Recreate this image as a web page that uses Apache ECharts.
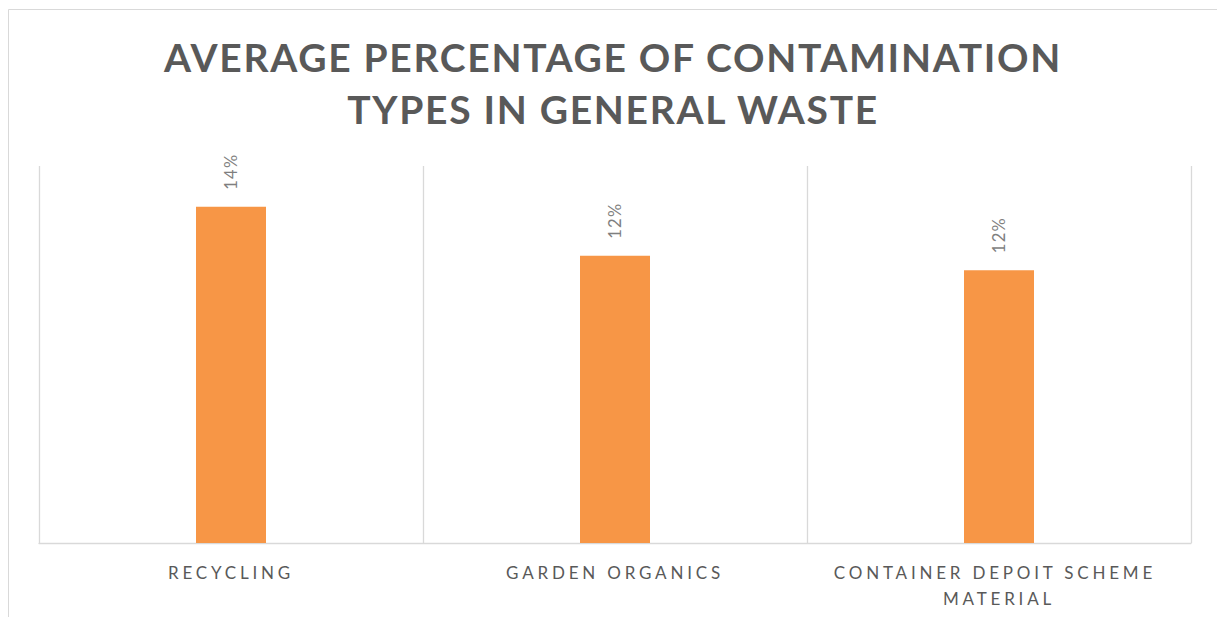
<!DOCTYPE html>
<html>
<head>
<meta charset="utf-8">
<script src="https://cdn.jsdelivr.net/npm/echarts@6/dist/echarts.min.js"></script>
<style>
html,body{margin:0;padding:0;background:#fff;}
#chart{width:1217px;height:617px;}
</style>
</head>
<body>
<div id="chart"></div>
<script>
const titleText = 'AVERAGE PERCENTAGE OF CONTAMINATION\nTYPES IN GENERAL WASTE';
const categories = ['RECYCLING', 'GARDEN ORGANICS', 'CONTAINER DEPOIT SCHEME MATERIAL'];
const values = [0.1427, 0.1219, 0.1158];
const yMin = 0;
const yMax = 0.16;

const chart = echarts.init(document.getElementById('chart'), null, {renderer: 'svg'});
chart.setOption({
  animation: false,
  backgroundColor: '#ffffff',
  title: {
    text: titleText,
    left: 613,
    textAlign: 'center',
    top: 31,
    padding: 0,
    textStyle: {
      fontFamily: 'Lato',
      fontWeight: 'bold',
      fontSize: 39,
      lineHeight: 52,
      color: '#595959'
    }
  },
  graphic: [
    {type: 'line', shape: {x1: 8.5, y1: 9.5, x2: 1217, y2: 9.5}, style: {stroke: '#D9D9D9', lineWidth: 1}, silent: true},
    {type: 'line', shape: {x1: 8.5, y1: 9.5, x2: 8.5, y2: 617}, style: {stroke: '#D9D9D9', lineWidth: 1}, silent: true}
  ],
  grid: {left: 39, right: 26, top: 166, bottom: 74, containLabel: false},
  xAxis: {
    type: 'category',
    data: categories,
    boundaryGap: true,
    axisLine: {show: true, lineStyle: {color: '#D9D9D9', width: 1.3}},
    axisTick: {show: false},
    splitLine: {show: true, lineStyle: {color: '#D9D9D9', width: 1.3}},
    axisLabel: {
      interval: 0,
      margin: 16,
      fontFamily: 'Lato',
      fontSize: 17,
      lineHeight: 26,
      color: '#595959',
      width: 270,
      overflow: 'break'
    }
  },
  yAxis: {
    type: 'value',
    min: yMin,
    max: yMax,
    show: false,
    splitLine: {show: false}
  },
  series: [{
    type: 'bar',
    data: values,
    barWidth: 70,
    itemStyle: {color: '#F79646'},
    label: {
      show: true,
      position: 'top',
      distance: 17,
      rotate: 90,
      align: 'left',
      verticalAlign: 'middle',
      fontFamily: 'Lato',
      fontSize: 16.5,
      color: '#7F7F7F',
      formatter: p => Math.round(p.value * 100) + '%'
    }
  }]
});

function applySpacing() {
  document.querySelectorAll('#chart svg text').forEach(el => {
    const fs = parseFloat(getComputedStyle(el).fontSize);
    let sp = 0;
    if (fs >= 30) sp = 1.7;
    else if (fs >= 17) sp = 3.8;
    else sp = 1.3;
    el.setAttribute('letter-spacing', sp + 'px');
  });
}
applySpacing();
chart.on('finished', applySpacing);
chart.on('rendered', applySpacing);
setTimeout(applySpacing, 50);
</script>
</body>
</html>
